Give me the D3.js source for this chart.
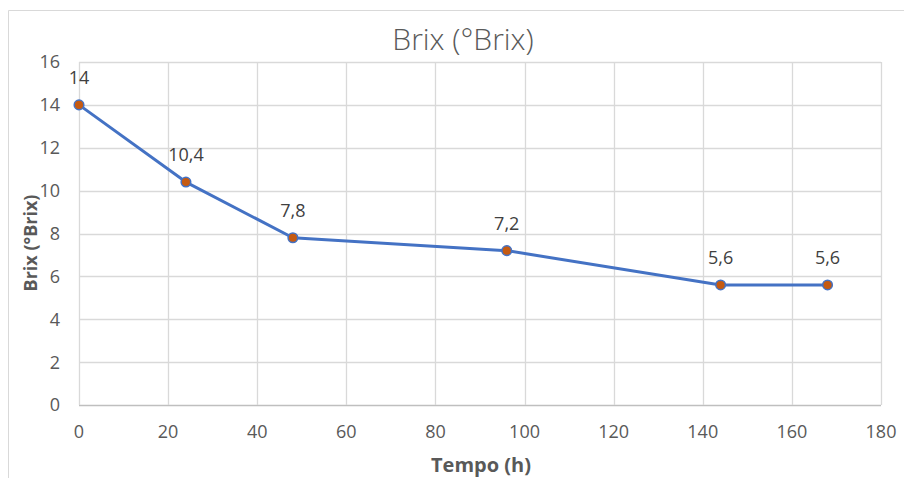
<!DOCTYPE html>
<html><head><meta charset="utf-8">
<script src="https://cdn.jsdelivr.net/npm/d3@7"></script>
<style>
html,body{margin:0;padding:0;background:#fff;}
svg{display:block;}
text{font-family:"Open Sans",sans-serif;}
</style></head>
<body>
<svg id="chart" width="904" height="478"></svg>
<script>
const tempo = [0, 24, 48, 96, 144, 168];
const brix = [14, 10.4, 7.8, 7.2, 5.6, 5.6];
const pointLabels = ["14", "10,4", "7,8", "7,2", "5,6", "5,6"];
const xTicks = [0, 20, 40, 60, 80, 100, 120, 140, 160, 180];
const yTicks = [0, 2, 4, 6, 8, 10, 12, 14, 16];
const title = "Brix (°Brix)";
const xTitle = "Tempo (h)";
const yTitle = "Brix (°Brix)";

const svg = d3.select("#chart");
const W = 904, H = 478;
const m = {left: 79, right: 881, top: 62, bottom: 405};

const x = d3.scaleLinear().domain([0, 180]).range([m.left, m.right]);
const y = d3.scaleLinear().domain([0, 16]).range([m.bottom, m.top]);

// outer border (left & top visible)
svg.append("line").attr("x1", 8.5).attr("x2", 8.5).attr("y1", 10.5).attr("y2", H).attr("stroke", "#d9d9d9");
svg.append("line").attr("x1", 8.5).attr("x2", W).attr("y1", 10.5).attr("y2", 10.5).attr("stroke", "#d9d9d9");

// gridlines
const g = svg.append("g");
g.selectAll("line.h").data(yTicks).join("line")
  .attr("x1", m.left).attr("x2", m.right)
  .attr("y1", d => Math.round(y(d)) + 0.5).attr("y2", d => Math.round(y(d)) + 0.5)
  .attr("stroke", d => d === 0 ? "#bfbfbf" : "#d9d9d9").attr("stroke-width", 1.3);
g.selectAll("line.v").data(xTicks).join("line")
  .attr("y1", m.top).attr("y2", m.bottom)
  .attr("x1", d => Math.round(x(d)) + 0.5).attr("x2", d => Math.round(x(d)) + 0.5)
  .attr("stroke", "#d9d9d9").attr("stroke-width", 1.3);

// tick labels
svg.append("g").selectAll("text").data(yTicks).join("text")
  .attr("x", 60).attr("y", d => y(d)).attr("dy", "0.36em")
  .attr("text-anchor", "end").attr("font-size", 18).attr("fill", "#595959")
  .text(d => d);
svg.append("g").selectAll("text").data(xTicks).join("text")
  .attr("x", d => x(d)).attr("y", 438)
  .attr("text-anchor", "middle").attr("font-size", 18).attr("fill", "#595959")
  .text(d => d);

// title
svg.append("text").attr("x", 463).attr("y", 50).attr("text-anchor", "middle")
  .attr("font-size", 30).attr("font-weight", 300).attr("fill", "#595959").text(title);

// axis titles
svg.append("text").attr("x", 481).attr("y", 472).attr("text-anchor", "middle")
  .attr("font-size", 20).attr("font-weight", 700).attr("fill", "#595959").text(xTitle);
svg.append("text").attr("transform", "translate(37,243) rotate(-90)").attr("text-anchor", "middle")
  .attr("font-size", 18).attr("font-weight", 700).attr("fill", "#595959").text(yTitle);

// line
const data = tempo.map((t, i) => ({t, b: brix[i], l: pointLabels[i]}));
svg.append("path").datum(data)
  .attr("d", d3.line().x(d => x(d.t)).y(d => y(d.b)))
  .attr("fill", "none").attr("stroke", "#4472C4").attr("stroke-width", 3).attr("stroke-linejoin", "round");

svg.append("g").selectAll("circle").data(data).join("circle")
  .attr("cx", d => x(d.t)).attr("cy", d => y(d.b)).attr("r", 4.8)
  .attr("fill", "#C55A11").attr("stroke", "#4472C4").attr("stroke-width", 1.5);

svg.append("g").selectAll("text").data(data).join("text")
  .attr("x", d => x(d.t)).attr("y", d => y(d.b) - 21)
  .attr("text-anchor", "middle").attr("font-size", 18).attr("fill", "#404040")
  .text(d => d.l);
</script>
</body></html>
